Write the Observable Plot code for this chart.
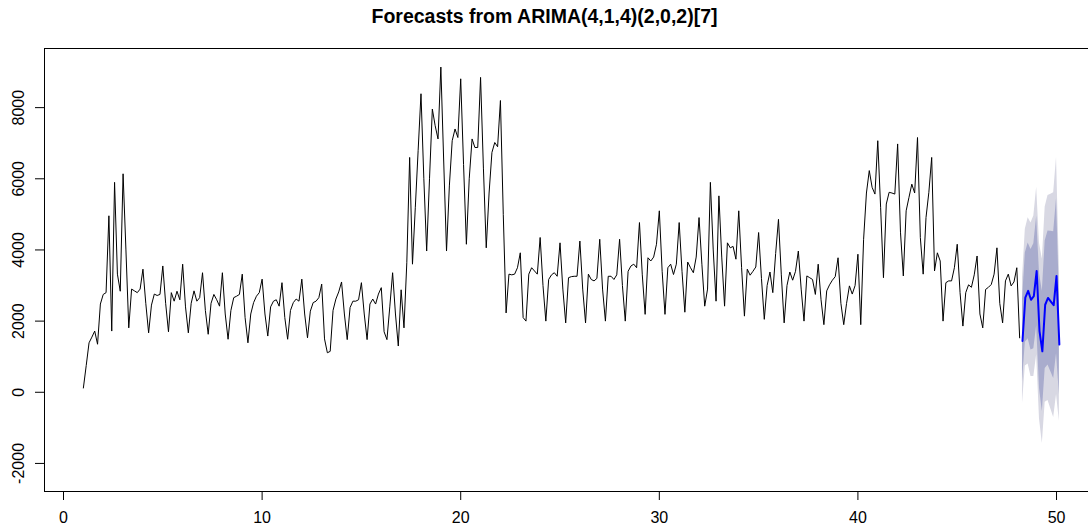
<!DOCTYPE html>
<html><head><meta charset="utf-8">
<script src="https://cdn.jsdelivr.net/npm/d3@7"></script>
<script src="https://cdn.jsdelivr.net/npm/@observablehq/plot@0.6"></script>
<style>body{margin:0;background:#fff;}</style>
</head><body><div id="chart"></div>
<script>
const chartTitle = "Forecasts from ARIMA(4,1,4)(2,0,2)[7]";
const startTime = 1;
const frequency = 7;
const observed = [
  120, 750, 1390, 1550, 1720, 1350, 2480,
  2750, 2800, 4960, 1720, 5900, 3320, 2840,
  6140, 4000, 1810, 2900, 2850, 2800, 2900,
  3460, 2500, 1670, 2450, 2760, 2720, 2750,
  3550, 2500, 1700, 2800, 2560, 2840, 2600,
  3600, 2400, 1670, 2500, 2850, 2560, 2660,
  3360, 2300, 1630, 2500, 2750, 2600, 2420,
  3360, 2200, 1490, 2300, 2660, 2700, 2750,
  3320, 2100, 1390, 2200, 2520, 2700, 2800,
  3180, 2200, 1580, 2400, 2560, 2600, 2420,
  3080, 2100, 1490, 2300, 2520, 2620, 2560,
  3180, 2200, 1530, 2280, 2520, 2560, 2660,
  3040, 1500, 1110, 1150, 2300, 2620, 2820,
  3100, 2200, 1480, 2380, 2560, 2560, 2600,
  3080, 2200, 1480, 2480, 2620, 2480, 2760,
  2940, 1700, 1480, 2400, 3360, 2200, 1300,
  2880, 1810, 3640, 6600, 3600, 5200, 6800,
  8390, 6000, 3970, 6000, 7960, 7490, 7120,
  9140, 6500, 3970, 5800, 7070, 7400, 7160,
  8810, 6400, 4160, 6000, 7120, 6880, 6880,
  8850, 6300, 4060, 5600, 6740, 7020, 6900,
  8200, 5000, 2230, 3320, 3300, 3320, 3500,
  3920, 2100, 2000, 3320, 3500, 3410, 3320,
  4350, 3000, 2000, 3170, 3300, 3360, 3260,
  4200, 2900, 1950, 3220, 3250, 3260, 3260,
  4250, 2900, 1950, 3320, 3170, 3130, 3200,
  4300, 2900, 2000, 3260, 3260, 3170, 3300,
  4300, 3000, 2000, 3400, 3550, 3600, 3500,
  4770, 3300, 2190, 3780, 3690, 3800, 4160,
  5100, 3400, 2190, 3500, 3600, 3310, 3600,
  4770, 3400, 2250, 3660, 3500, 3360, 3800,
  4910, 3600, 2420, 2900, 5900, 4000, 2560,
  5520, 3800, 2420, 4200, 4060, 4100, 3740,
  5100, 3500, 2140, 3460, 3290, 3400, 3520,
  4490, 3200, 2050, 3000, 3380, 2800, 3900,
  4860, 3300, 1950, 3000, 3380, 3150, 3400,
  3970, 2900, 2000, 3270, 3220, 3170, 2750,
  3600, 2600, 1900, 2850, 3020, 3150, 3250,
  3780, 2500, 1900, 2500, 2990, 2760, 3000,
  3880, 1900, 4300, 5600, 6230, 5760, 5570,
  7070, 5200, 3220, 5290, 5620, 5600, 5570,
  6980, 4500, 3270, 5100, 5480, 5850, 5600,
  7160, 4350, 3320, 4910, 5620, 6600, 3410,
  3920, 3690, 2000, 3080, 3130, 3130, 3500,
  4160, 2800, 1860, 2800, 3020, 2950, 3300,
  3830, 2200, 1810, 2890, 2950, 3030, 3320,
  4060, 2500, 1950, 3130, 3320, 2990, 3100,
  3500, 1530
];
// 14-day point forecast and prediction intervals
const forecastMean = [1440, 2660, 2850, 2600, 2700, 3410, 1720, 1150, 2460, 2650, 2550, 2450, 3270, 1340];
const lower80 = [287, 1404, 1504, 1190, 1226, 1872, 105, -542, 666, 766, 576, 387, 1091, -70];
const upper80 = [2593, 3916, 4196, 4010, 4174, 4948, 3335, 2842, 4254, 4534, 4524, 4513, 5449, 2750];
const lower95 = [-324, 739, 792, 444, 446, 1058, -750, -1437, -284, -231, -468, -706, -62, -816];
const upper95 = [3204, 4581, 4908, 4756, 4954, 5762, 4190, 3737, 5204, 5531, 5568, 5606, 6602, 3496];
const xTicks = [0, 10, 20, 30, 40, 50];
const yTicks = [-2000, 0, 2000, 4000, 6000, 8000];

const obsData = observed.map((v, i) => ({t: startTime + i / frequency, v}));
const n = observed.length;
const fcData = forecastMean.map((v, i) => ({
  t: startTime + (n + i) / frequency, mean: v,
  lo80: lower80[i], hi80: upper80[i], lo95: lower95[i], hi95: upper95[i]
}));

const chart = Plot.plot({
  width: 1088, height: 526,
  marginLeft: 44, marginRight: 0, marginTop: 48, marginBottom: 35,
  x: {domain: [-0.957, 51.61]},
  y: {domain: [-2789, 9662]},
  style: {fontFamily: "'Liberation Sans', Arial, sans-serif", fontSize: "16px", background: "#fff", color: "#000", overflow: "visible"},
  marks: [
    Plot.areaY(fcData, {x: "t", y1: "lo95", y2: "hi95", fill: "#D8D8E3"}),
    Plot.areaY(fcData, {x: "t", y1: "lo80", y2: "hi80", fill: "#A9ACCD"}),
    Plot.line(obsData, {x: "t", y: "v", stroke: "#000", strokeWidth: 1}),
    Plot.line(fcData, {x: "t", y: "mean", stroke: "#0000FF", strokeWidth: 2}),
    Plot.frame({stroke: "#000"}),
    Plot.axisX({ticks: xTicks, tickSize: 9, tickPadding: 11, tickFormat: d => String(d), fontSize: 16, label: null}),
    Plot.axisY({ticks: yTicks, tickSize: 9, tickPadding: 12, tickRotate: -90, tickFormat: d => String(d), fontSize: 16, label: null}),
    Plot.text([chartTitle], {frameAnchor: "top", dx: -22, dy: -39, fontWeight: "bold", fontSize: 19.5})
  ]
});
document.getElementById("chart").appendChild(chart);
</script>
</body></html>
